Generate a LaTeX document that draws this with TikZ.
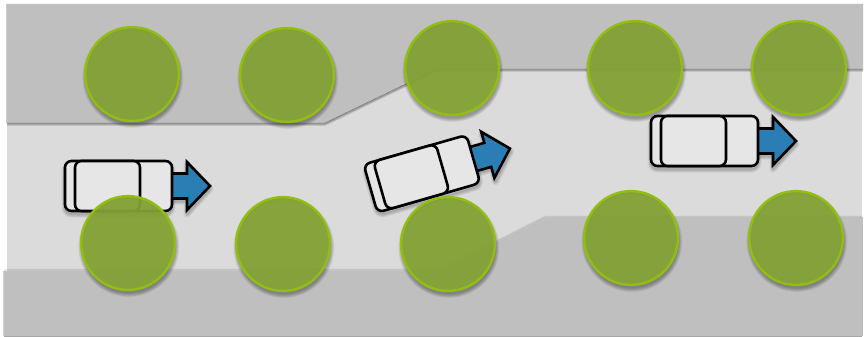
\documentclass[tikz,border=0pt]{standalone}
\usetikzlibrary{calc}
\definecolor{roadgray}{HTML}{DBDBDB}
\definecolor{sidegray}{HTML}{BFBFBF}
\definecolor{treefill}{HTML}{82A034}
\definecolor{treeedge}{HTML}{92BE12}
\definecolor{carfill}{HTML}{E6E6E6}
\definecolor{arrowblue}{HTML}{2B7EB4}
\tikzset{
  x=1pt,y=-1pt,
  softline/.style={draw=black,draw opacity=.05,line join=round,fill=none},
  carbody/.style={draw=black,line width=2.6pt,fill=carfill,rounded corners=6.5pt},
  cararrow/.style={draw=black,line width=2.6pt,fill=arrowblue,line join=miter},
  sidearea/.style={fill=sidegray,draw=none},
  pics/truck/.style={code={
    % soft shadow
    \foreach \w in {1,2.5,4,5.5,7}{
      \draw[softline,line width=\w pt,rounded corners=6.5pt] (0,-22) rectangle (107,28);
      \draw[softline,line width=\w pt] (107,-10) -- (122,-10) -- (122,-22) -- (145,3) -- (122,28) -- (122,15) -- (107,15);
    }
    \draw[cararrow] (100,-12.5) -- (122,-12.5) -- (122,-24) -- (145,0) -- (122,24) -- (122,12.5) -- (100,12.5) -- cycle;
    \draw[carbody] (0,-25) rectangle (107,25);
    \draw[carbody] (10,-25) rectangle (75,25);
  }}
}
\newcommand{\treeshadow}[2]{%
  \foreach \k in {1,2,3,4,5,6}{
    \fill[black,fill opacity=.06,even odd rule] (#1+.8,#2+3.5) circle[radius=46.2+\k*.7] (#1,#2) circle[radius=47];
  }}
\newcommand{\treedisc}[2]{%
  \treeshadow{#1}{#2}
  \fill[treefill,fill opacity=.95] (#1,#2) circle[radius=47];
  \draw[treeedge,line width=2.4pt] (#1,#2) circle[radius=46.9];}
\begin{document}
\begin{tikzpicture}
\useasboundingbox (0,0) rectangle (864,337);
\fill[white] (0,0) rectangle (864,337);
% road
\fill[roadgray] (7,5) rectangle (862,335);
% upper verge
\foreach \k in {1,2,3,4}{
  \draw[black,draw opacity=.08,line width=\k*.9pt,line join=round]
    (7,124) -- (325,124) -- (437,70) -- (863,70);
}
\fill[sidearea] (7,4) -- (863,4) -- (863,69) -- (437,69) -- (325,123) -- (7,123) -- cycle;
\draw[black!55,line width=.5pt] (7,123) -- (325,123) -- (437,69) -- (863,69);
\draw[black!20,line width=1pt] (6.5,4) -- (6.5,123);
% lower verge
\foreach \k in {1,2,3}{
  \draw[black,draw opacity=.04,line width=\k*.9pt,line join=round]
    (4,270) -- (440,270) -- (545,217) -- (862,217);
}
\fill[sidearea] (4,271) -- (440,271) -- (545,217) -- (862,217) -- (862,336) -- (4,336) -- cycle;
\draw[black!18,line width=1pt] (3.5,271) -- (3.5,336);
\draw[black!35,line width=1pt] (4,336.2) -- (862,336.2);
\draw[black!25,line width=1pt] (862.5,217) -- (862.5,336);
% vehicles
\pic at (65,186) {truck};
\pic[rotate=16] at (370.5,188.5) {truck};
\pic at (651,141) {truck};
% trees
\treedisc{132}{74}
\treedisc{287}{75}
\treedisc{452}{68}
\treedisc{635}{68}
\treedisc{799}{68}
\treedisc{128}{243}
\treedisc{283}{244}
\treedisc{448}{244}
\treedisc{631}{238}
\treedisc{796}{238}
\end{tikzpicture}
\end{document}
